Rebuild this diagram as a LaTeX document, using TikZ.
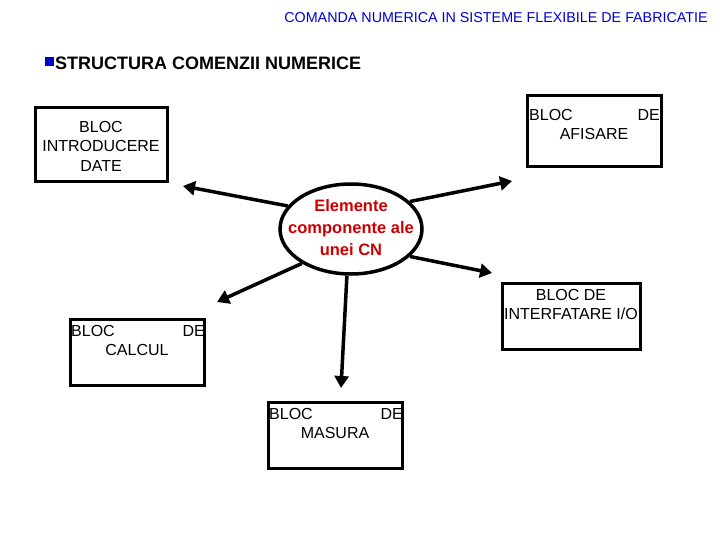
\documentclass[tikz,border=0pt]{standalone}
\usepackage{fontspec}
\setmainfont{Liberation Sans}
\usetikzlibrary{shapes.geometric,arrows.meta}
\begin{document}
\begin{tikzpicture}[x=1pt,y=-1pt,
 box/.style={draw,line width=3pt},
 txt/.style={font=\fontsize{16}{20}\selectfont,inner sep=0pt,anchor=center},
 arr/.style={line width=3.5pt,-{Triangle[length=12pt,width=14pt]}}]
\useasboundingbox (0,0) rectangle (720,540);
\node[txt,text=blue!80!black,font=\fontsize{14.3}{16}\selectfont] (hdr) at (496,18) {COMANDA NUMERICA IN SISTEME FLEXIBILE DE FABRICATIE};
\node[fill=blue!80!black,minimum size=9pt,inner sep=0pt] (bul) at (49,62) {};
\node[txt,anchor=west,font=\fontsize{18}{20}\selectfont\bfseries] (ttl) at (55,63) {STRUCTURA COMENZII NUMERICE};
% boxes
\draw[box] (35,108) rectangle (167,182);
\node[txt] (b1a) at (101,127) {BLOC};
\node[txt] (b1b) at (101,146) {INTRODUCERE};
\node[txt] (b1c) at (101,166) {DATE};
\draw[box] (527,96) rectangle (661,167);
\node[txt,anchor=west] (b2a) at (529,115) {BLOC};
\node[txt,anchor=east] (b2d) at (660,115) {DE};
\node[txt] (b2b) at (594,134) {AFISARE};
\draw[box] (502,283) rectangle (640,349);
\node[txt] (b3a) at (571,295) {BLOC DE};
\node[txt] (b3b) at (571,314) {INTERFATARE I/O};
\draw[box] (70,319) rectangle (204,385);
\node[txt,anchor=west] (b4a) at (71,331) {BLOC};
\node[txt,anchor=east] (b4d) at (205,331) {DE};
\node[txt] (b4b) at (137,350) {CALCUL};
\draw[box] (268,402) rectangle (402,468);
\node[txt,anchor=west] (b5a) at (269,414) {BLOC};
\node[txt,anchor=east] (b5d) at (403,414) {DE};
\node[txt] (b5b) at (335,433) {MASURA};
% ellipse
\node[ellipse,draw,line width=3.5pt,minimum width=142pt,minimum height=90pt] (el) at (351,229) {};
\node[txt,text=red!80!black,font=\fontsize{16.5}{22}\selectfont\bfseries,align=center] (elt) at (351,228) {Elemente\\componente ale\\unei CN};
% arrows
\coordinate (a1) at (183,186);
\coordinate (a2) at (512,181);
\coordinate (a3) at (492,273);
\coordinate (a4) at (217,302);
\coordinate (a5) at (341,388);
\draw[arr] (el.160) -- (a1);
\draw[arr] (el.25) -- (a2);
\draw[arr] (el.-25) -- (a3);
\draw[arr] (el.-145) -- (a4);
\draw[arr] (el.-95) -- (a5);
\end{tikzpicture}
\end{document}
